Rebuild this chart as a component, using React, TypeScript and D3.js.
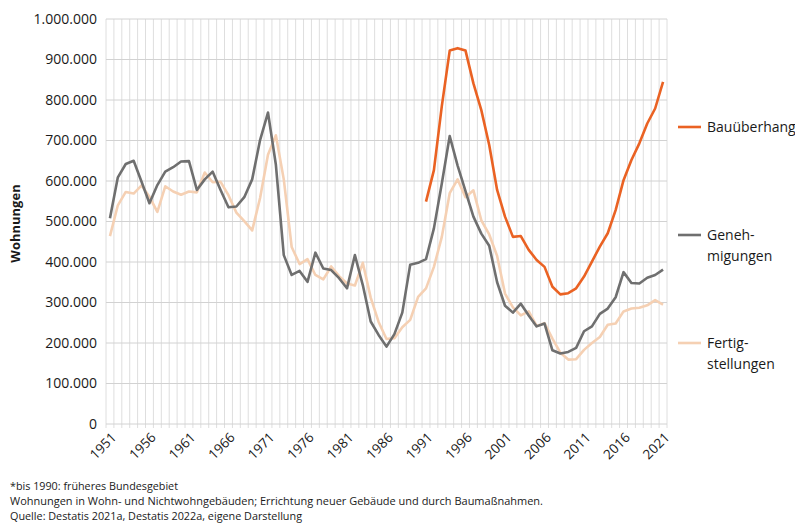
import * as d3 from "d3";
import { useEffect, useRef } from "react";

const years = d3.range(1951, 2022).map(String);

// Baugenehmigungen (Wohnungen)
const genehmigungen = [
  508000, 609000, 642000, 650000, 598000, 545000, 590000, 623000, 634000, 648000,
  649000, 578000, 604000, 623000, 578000, 535000, 537000, 560000, 604000, 701000,
  769000, 640000, 417000, 368000, 378000, 351000, 423000, 384000, 380000, 360000,
  335000, 417000, 343000, 253000, 220000, 191000, 222000, 275000, 393000, 398000,
  407000, 483000, 594000, 711000, 638000, 575000, 512000, 470000, 440000, 350000,
  292000, 275000, 297000, 268000, 241000, 248000, 182000, 174000, 178000, 188000,
  229000, 241000, 272000, 285000, 313000, 375000, 348000, 347000, 361000, 368000,
  381000,
];

// Baufertigstellungen (Wohnungen)
const fertigstellungen = [
  464000, 540000, 573000, 569000, 589000, 561000, 524000, 587000, 574000, 566000,
  574000, 572000, 621000, 597000, 598000, 565000, 522000, 501000, 478000, 558000,
  665000, 713000, 604000, 437000, 395000, 407000, 368000, 357000, 389000, 365000,
  347000, 342000, 398000, 312000, 252000, 210000, 212000, 239000, 257000, 314000,
  335000, 388000, 462000, 570000, 604000, 560000, 577000, 503000, 468000, 415000,
  322000, 288000, 268000, 278000, 242000, 249000, 211000, 176000, 159000, 160000,
  183000, 200000, 215000, 245000, 248000, 278000, 285000, 287000, 293000, 306000,
  295000,
];

// Bauüberhang, erst ab 1991
const bauueberhang = [
  null, null, null, null, null, null, null, null, null, null,
  null, null, null, null, null, null, null, null, null, null,
  null, null, null, null, null, null, null, null, null, null,
  null, null, null, null, null, null, null, null, null, null,
  549000, 627000, 785000, 922000, 928000, 922000, 841000, 775000, 689000, 578000,
  512000, 462000, 464000, 430000, 405000, 388000, 339000, 320000, 323000, 335000,
  364000, 401000, 438000, 471000, 528000, 602000, 652000, 693000, 742000, 779000,
  845000,
];

const yTicks = [0, 100000, 200000, 300000, 400000, 500000, 600000, 700000, 800000, 900000, 1000000];
const xLabelYears = d3.range(1951, 2022, 5).map(String);

const seriesNames = ["Bauüberhang", "Genehmigungen", "Fertigstellungen"];

const footnotes = [
  "*bis 1990: früheres Bundesgebiet",
  "Wohnungen in Wohn- und Nichtwohngebäuden; Errichtung neuer Gebäude und durch Baumaßnahmen.",
  "Quelle: Destatis 2021a, Destatis 2022a, eigene Darstellung",
];

function App() {
  const width = 795;
  const height = 524;
  const marginTop = 19;
  const marginLeft = 106;
  const plotRight = 667;
  const plotBottom = 424;
  const font = "'Open Sans', 'Noto Sans', sans-serif";
  const ref = useRef<HTMLDivElement>(null);

  useEffect(() => {
    d3.select(ref.current).select("svg").remove();

    const de = d3.formatLocale({ decimal: ",", thousands: ".", grouping: [3], currency: ["", " €"] });
    const fmt = de.format(",");

    const svg = d3
      .select(ref.current)
      .append("svg")
      .attr("width", width)
      .attr("height", height)
      .attr("viewBox", [0, 0, width, height])
      .style("font-family", font)
      .style("background", "#fff");

    const x = d3.scaleBand().domain(years).range([marginLeft, plotRight]);
    const y = d3.scaleLinear().domain([0, 1000000]).range([plotBottom, marginTop]);
    const cx = (d: string) => (x(d) as number) + x.bandwidth() / 2;

    // vertical gridlines (between categories)
    const bounds = years.map((d) => x(d) as number).concat([plotRight]);
    svg
      .append("g")
      .selectAll("line")
      .data(bounds)
      .join("line")
      .attr("x1", (d) => d)
      .attr("x2", (d) => d)
      .attr("y1", marginTop)
      .attr("y2", plotBottom + 4)
      .attr("stroke", "#dedede")
      .attr("stroke-width", 1);

    // horizontal gridlines + y labels
    const gy = svg.append("g");
    gy.selectAll("line")
      .data(yTicks)
      .join("line")
      .attr("x1", marginLeft)
      .attr("x2", plotRight)
      .attr("y1", (d) => y(d))
      .attr("y2", (d) => y(d))
      .attr("stroke", "#d2d2d2")
      .attr("stroke-width", 1);
    gy.selectAll("text")
      .data(yTicks)
      .join("text")
      .attr("x", 97)
      .attr("y", (d) => y(d))
      .attr("dy", "0.35em")
      .attr("text-anchor", "end")
      .attr("font-size", 14)
      .attr("fill", "#1a1a1a")
      .text((d) => fmt(d));

    // x labels, rotated
    svg
      .append("g")
      .selectAll("text")
      .data(xLabelYears)
      .join("text")
      .attr("transform", (d) => `translate(${cx(d) + 4},${plotBottom + 11}) rotate(-45)`)
      .attr("text-anchor", "end")
      .attr("dy", "0.35em")
      .attr("font-size", 13.5)
      .attr("fill", "#1a1a1a")
      .text((d) => d);

    svg
      .append("text")
      .attr("transform", `translate(20,${(marginTop + plotBottom) / 2 + 2}) rotate(-90)`)
      .attr("text-anchor", "middle")
      .attr("font-size", 13)
      .attr("font-weight", "bold")
      .attr("fill", "#1a1a1a")
      .text("Wohnungen");

    const series = [
      { name: seriesNames[2], values: fertigstellungen, color: "#f5d0b3" },
      { name: seriesNames[1], values: genehmigungen, color: "#6f6f6f" },
      { name: seriesNames[0], values: bauueberhang, color: "#ea6223" },
    ];

    const line = d3
      .line<number | null>()
      .defined((d) => d != null)
      .x((_, i) => cx(years[i]))
      .y((d) => y(d as number));

    svg
      .append("g")
      .selectAll("path")
      .data(series)
      .join("path")
      .attr("fill", "none")
      .attr("stroke", (d) => d.color)
      .attr("stroke-width", 2.6)
      .attr("stroke-linejoin", "round")
      .attr("d", (d) => line(d.values as (number | null)[]));

    // legend
    const legend = [
      { lines: ["Bauüberhang"], y: 127, color: "#ea6223" },
      { lines: ["Geneh-", "migungen"], y: 235, color: "#6f6f6f" },
      { lines: ["Fertig-", "stellungen"], y: 343, color: "#f5d0b3" },
    ];
    const lg = svg.append("g").selectAll("g").data(legend).join("g");
    lg.append("line")
      .attr("x1", 678)
      .attr("x2", 701)
      .attr("y1", (d) => d.y)
      .attr("y2", (d) => d.y)
      .attr("stroke", (d) => d.color)
      .attr("stroke-width", 2.6);
    lg.each(function (d) {
      d3.select(this)
        .selectAll("text")
        .data(d.lines)
        .join("text")
        .attr("x", 707)
        .attr("y", (_, i) => d.y + 5 + i * 21)
        .attr("font-size", 14)
        .attr("fill", "#1a1a1a")
        .text((t) => t);
    });

    // footnotes
    const widths = [168, 533, 292];
    svg
      .append("g")
      .selectAll("text")
      .data(footnotes)
      .join("text")
      .attr("x", 10)
      .attr("y", (_, i) => 490 + i * 15)
      .attr("font-size", 11)
      .attr("fill", "#1a1a1a")
      .attr("textLength", (_, i) => widths[i])
      .attr("lengthAdjust", "spacingAndGlyphs")
      .text((d) => d);
  }, []);

  return <div ref={ref} style={{ position: "absolute", left: 0, top: 0 }}></div>;
}

export default App;
